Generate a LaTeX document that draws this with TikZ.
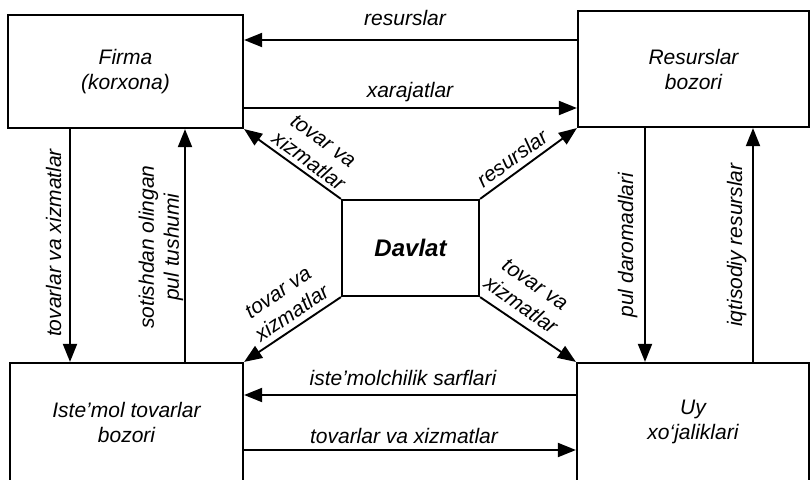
\documentclass[tikz,border=0pt]{standalone}
\usepackage{fontspec}
\setmainfont{Liberation Sans}
\usetikzlibrary{arrows.meta}
\begin{document}
\begin{tikzpicture}[x=1pt,y=-1pt,
  box/.style={draw, line width=2.2pt, rectangle, inner sep=0pt, align=center, font=\fontsize{21}{25}\selectfont\itshape},
  arr/.style={line width=1.9pt, -{Triangle[length=18pt,width=14pt]}},
  lbl/.style={font=\fontsize{21}{25}\selectfont\itshape, inner sep=0pt, align=center},
]
\useasboundingbox (0,0) rectangle (810,479);
\clip (0,0) rectangle (810,479);
% boxes
\node[box, minimum width=235pt, minimum height=113pt] (firma) at (125.5,71.5) {Firma\\(korxona)};
\node[box, minimum width=231pt, minimum height=116pt] (res) at (693.5,69) {Resurslar\\bozori};
\node[box, minimum width=233pt, minimum height=118pt] (ist) at (126.5,422) {Iste’mol tovarlar\\bozori};
\node[box, minimum width=232pt, minimum height=118pt] (uy) at (693,422) {Uy\\xo‘jaliklari};
\node[box, minimum width=137pt, minimum height=96pt, font=\fontsize{24}{26}\selectfont\bfseries\itshape] (dav) at (410.5,248) {Davlat};
% helper coordinates
\coordinate (h1) at (0,40);
\coordinate (h2) at (0,108);
\coordinate (h3) at (0,395);
\coordinate (h4) at (0,450);
\coordinate (v1) at (70,0);
\coordinate (v2) at (185,0);
\coordinate (v3) at (645,0);
\coordinate (v4) at (753,0);
% horizontal arrows
\draw[arr] (res.west |- h1) -- (firma.east |- h1);
\draw[arr] (firma.east |- h2) -- (res.west |- h2);
\draw[arr] (uy.west |- h3) -- (ist.east |- h3);
\draw[arr] (ist.east |- h4) -- (uy.west |- h4);
% vertical arrows
\draw[arr] (firma.south -| v1) -- (ist.north -| v1);
\draw[arr] (ist.north -| v2) -- (firma.south -| v2);
\draw[arr] (res.south -| v3) -- (uy.north -| v3);
\draw[arr] (uy.north -| v4) -- (res.south -| v4);
% diagonal arrows
\draw[arr] (dav.north west) -- (firma.south east);
\draw[arr] (dav.north east) -- (res.south west);
\draw[arr] (dav.south west) -- (ist.north east);
\draw[arr] (dav.south east) -- (uy.north west);
% labels
\node[lbl, anchor=base] (l1) at (405,25) {resurslar};
\node[lbl, anchor=base] (l2) at (410,97) {xarajatlar};
\node[lbl, anchor=base] (l3) at (403,385) {iste’molchilik sarflari};
\node[lbl, anchor=base] (l4) at (404,443) {tovarlar va xizmatlar};
\node[lbl, anchor=base, rotate=90] (l5) at (61,243) {tovarlar va xizmatlar};
\node[lbl, rotate=90] (l6) at (161,247) {sotishdan olingan\\pul tushumi};
\node[lbl, anchor=base, rotate=90] (l7) at (633,245) {pul daromadlari};
\node[lbl, anchor=base, rotate=90] (l8) at (742,245) {iqtisodiy resurslar};
\node[lbl, rotate=-36] (l9) at (316,151) {tovar va\\xizmatlar};
\node[lbl, rotate=36] (l10) at (512,158) {resurslar};
\node[lbl, rotate=34] (l11) at (285,303) {tovar va\\xizmatlar};
\node[lbl, rotate=-35] (l12) at (528,295) {tovar va\\xizmatlar};
\end{tikzpicture}
\end{document}
